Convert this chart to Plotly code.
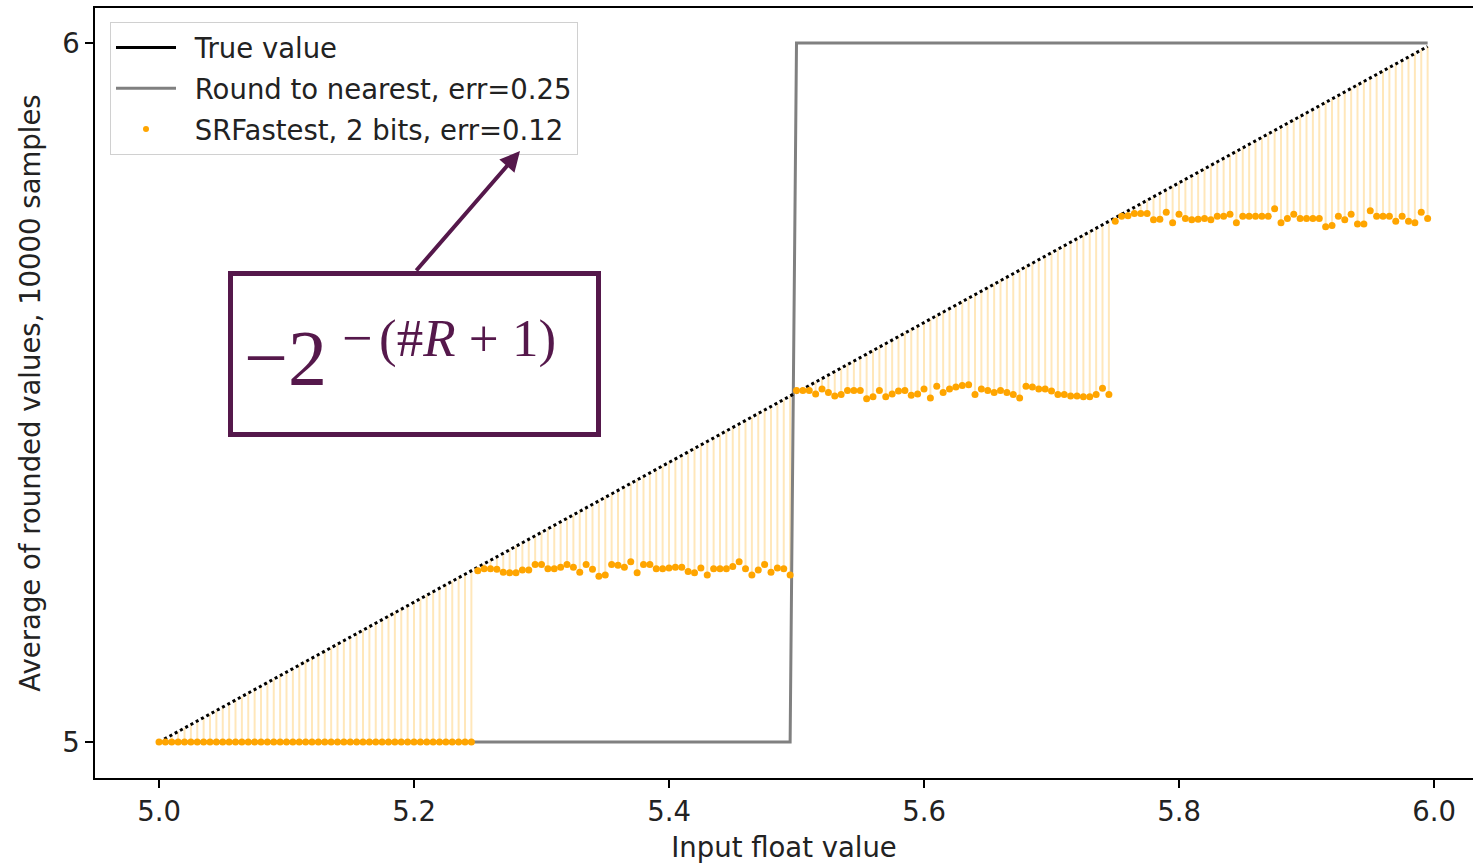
import numpy as np
import plotly.graph_objects as go

# ---------------- data ----------------
x_vals = np.round(5.0 + 0.005 * np.arange(200), 3)          # input float values 5.000 .. 5.995
true_vals = list(x_vals)                                     # true value (y = x)
nearest_vals = [5.0] * 100 + [6.0] * 100                     # round to nearest
sr_band0 = [5.0] * 50
sr_band1 = [5.245, 5.248, 5.248, 5.247, 5.243, 5.242, 5.242, 5.246, 5.246, 5.254,
            5.254, 5.248, 5.248, 5.250, 5.254, 5.250, 5.243, 5.254, 5.247, 5.237,
            5.239, 5.254, 5.253, 5.250, 5.258, 5.242, 5.254, 5.254, 5.248, 5.248,
            5.249, 5.250, 5.250, 5.244, 5.242, 5.249, 5.239, 5.248, 5.248, 5.248,
            5.251, 5.258, 5.248, 5.239, 5.246, 5.254, 5.243, 5.249, 5.248, 5.239]
sr_band2 = [5.503, 5.503, 5.503, 5.498, 5.505, 5.500, 5.495, 5.497, 5.503, 5.503,
            5.503, 5.491, 5.494, 5.503, 5.494, 5.498, 5.502, 5.503, 5.496, 5.498,
            5.505, 5.492, 5.509, 5.500, 5.505, 5.508, 5.510, 5.511, 5.497, 5.505,
            5.503, 5.500, 5.503, 5.500, 5.497, 5.492, 5.509, 5.508, 5.505, 5.505,
            5.502, 5.497, 5.497, 5.495, 5.495, 5.494, 5.494, 5.497, 5.506, 5.497]
sr_band3 = [5.745, 5.752, 5.753, 5.756, 5.756, 5.756, 5.747, 5.748, 5.758, 5.743,
            5.755, 5.749, 5.747, 5.748, 5.749, 5.747, 5.752, 5.752, 5.755, 5.743,
            5.752, 5.752, 5.752, 5.752, 5.752, 5.763, 5.743, 5.749, 5.755, 5.749,
            5.749, 5.749, 5.749, 5.737, 5.739, 5.752, 5.747, 5.755, 5.741, 5.741,
            5.760, 5.752, 5.752, 5.752, 5.745, 5.752, 5.745, 5.743, 5.758, 5.749]
sr_vals = sr_band0 + sr_band1 + sr_band2 + sr_band3

x_ticks = [5.0, 5.2, 5.4, 5.6, 5.8, 6.0]
x_tick_labels = ["5.0", "5.2", "5.4", "5.6", "5.8", "6.0"]
y_ticks = [5, 6]
y_tick_labels = ["5", "6"]

names = ["True value", "Round to nearest, err=0.25", "SRFastest, 2 bits, err=0.12"]

# stems from each SR average up to the true value
stem_x, stem_y = [], []
for xv, sv, tv in zip(x_vals, sr_vals, true_vals):
    stem_x += [xv, xv, None]
    stem_y += [sv, tv, None]

PURPLE = "#55184b"
FONT = "DejaVu Sans"
FS = 27.5
PAD = "\u2002"

fig = go.Figure()
fig.add_trace(go.Scatter(x=stem_x, y=stem_y, mode="lines",
                         line=dict(color="rgba(255,165,0,0.27)", width=2),
                         showlegend=False, hoverinfo="skip"))
fig.add_trace(go.Scatter(x=x_vals, y=nearest_vals, mode="lines",
                         line=dict(color="#808080", width=3),
                         showlegend=False))
fig.add_trace(go.Scatter(x=x_vals, y=true_vals, mode="lines",
                         line=dict(color="black", width=3, dash="dot"),
                         showlegend=False))
fig.add_trace(go.Scatter(x=x_vals, y=sr_vals, mode="markers",
                         marker=dict(color="orange", size=7),
                         showlegend=False))
# legend entries
fig.add_trace(go.Scatter(x=[None], y=[None], mode="lines", name=PAD + names[0],
                         line=dict(color="black", width=3), legendgroup="a"))
fig.add_trace(go.Scatter(x=[None], y=[None], mode="lines", name=PAD + names[1],
                         line=dict(color="#808080", width=3), legendgroup="b"))
fig.add_trace(go.Scatter(x=[None], y=[None], mode="markers", name=PAD + names[2],
                         marker=dict(color="orange", size=6), legendgroup="c"))

L, R, T, B = 95, 1473, 8, 778
W, H = R - L, B - T


def px(xp):
    return (xp - L) / W


def py(yp):
    return (B - yp) / H


fig.update_layout(
    width=1473, height=865,
    margin=dict(l=L, r=0, t=T, b=865 - B),
    paper_bgcolor="white", plot_bgcolor="white",
    font=dict(family=FONT, size=FS, color="#222"),
    legend=dict(x=px(110), y=py(22), xanchor="left", yanchor="top",
                bgcolor="rgba(255,255,255,0.8)", bordercolor="#d0d0d0", borderwidth=1,
                font=dict(family=FONT, size=FS, color="#222"),
                itemwidth=60, tracegroupgap=2),
    xaxis=dict(range=[5.0 - 64 / 1275, 6.0 + 39 / 1275], tickvals=x_ticks, ticktext=x_tick_labels,
               showgrid=False, zeroline=False, showline=True, linecolor="black", linewidth=1.5,
               mirror=True, ticks="outside", ticklen=8, tickwidth=1.5, tickcolor="black",
               title=dict(text="Input float value", standoff=12,
                          font=dict(family=FONT, size=FS, color="#222"))),
    yaxis=dict(range=[5.0 - 36 / 699, 6.0 + 35 / 699], tickvals=y_ticks, ticktext=y_tick_labels,
               showgrid=False, zeroline=False, showline=True, linecolor="black", linewidth=1.5,
               mirror=False, ticks="outside", ticklen=8, tickwidth=1.5, tickcolor="black",
               title=dict(text="Average of rounded values, 10000 samples", standoff=14,
                          font=dict(family=FONT, size=FS, color="#222"))),
)

# annotation box
fig.add_shape(type="rect", xref="paper", yref="paper",
              x0=px(230.5), x1=px(598.5), y0=py(434.5), y1=py(273.5),
              line=dict(color=PURPLE, width=5), fillcolor="white", layer="above")
fig.add_annotation(xref="paper", yref="paper", x=px(242), y=py(357),
                   xanchor="left", yanchor="middle", showarrow=False,
                   text="\u22122", font=dict(family="Liberation Serif", size=78, color=PURPLE))
fig.add_annotation(xref="paper", yref="paper", x=px(340), y=py(338),
                   xanchor="left", yanchor="middle", showarrow=False,
                   text="\u2212", font=dict(family="Liberation Serif", size=54, color=PURPLE))
fig.add_annotation(xref="paper", yref="paper", x=px(377), y=py(338),
                   xanchor="left", yanchor="middle", showarrow=False,
                   text="(#<i>R</i> + 1)",
                   font=dict(family="Liberation Serif", size=53, color=PURPLE))
# arrow
fig.add_annotation(xref="paper", yref="paper", x=px(520), y=py(151),
                   ax=-105, ay=121, text="", showarrow=True,
                   arrowhead=2, arrowsize=1, arrowwidth=4, arrowcolor=PURPLE,
                   standoff=0, startstandoff=0)

fig.write_html("out.html")
